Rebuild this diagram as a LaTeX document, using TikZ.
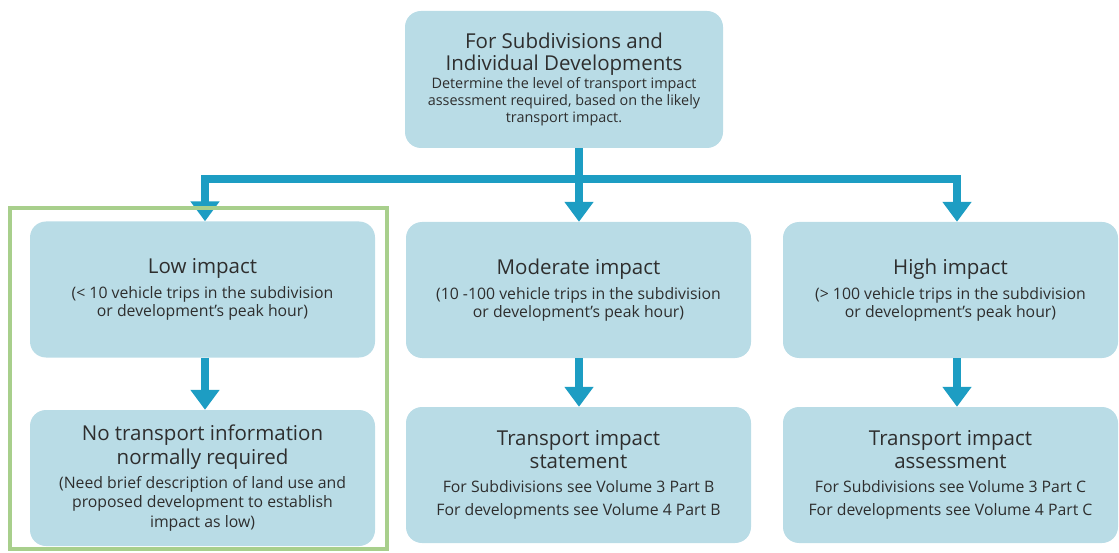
\documentclass[tikz,border=0pt]{standalone}
\usepackage{fontspec}
\setmainfont{Open Sans}
\usetikzlibrary{arrows.meta}
\definecolor{boxblue}{HTML}{B9DCE6}
\definecolor{pipeblue}{HTML}{1D9DC3}
\definecolor{framegreen}{HTML}{A8CF8C}
\definecolor{inkgray}{HTML}{2E2E2E}
\newcommand{\hd}{\fontsize{20.5}{22}\selectfont}
\newcommand{\bd}{\fontsize{15.8}{18}\selectfont}
\newcommand{\sbd}{\fontsize{14.4}{17}\selectfont}
\begin{document}
\begin{tikzpicture}[x=1pt,y=-1pt]
    % Styles for the boxes and arrows
    \tikzset{
        box/.style={
            rectangle,
            rounded corners=16pt,
            fill=boxblue,
            minimum width=345pt,
            minimum height=136pt,
            inner sep=0pt,
            text=inkgray,
            font=\bd,
            align=center
        },
        pipe/.style={
            draw=pipeblue,
            line width=7.5pt
        },
        arrow/.style={
            pipe,
            -{Triangle[width=28pt,length=20pt]}
        }
    }
    \useasboundingbox (0,0) rectangle (1119,553);
    % Top box
    \node[box, font=\sbd, minimum width=318pt, minimum height=137pt] (top) at (564,79.5)
        {\hd For Subdivisions and\\[5pt]\hd Individual Developments\\[1pt]
         Determine the level of transport impact\\
         assessment required, based on the likely\\
         transport impact.};
    % Impact levels
    \node[box] (low) at (202.5,289.5)
        {\hd Low impact\\[7pt](< 10 vehicle trips in the subdivision\\or development’s peak hour)};
    \node[box] (mod) at (578.5,290)
        {\hd Moderate impact\\[7pt](10 -100 vehicle trips in the subdivision\\or development’s peak hour)};
    \node[box, minimum width=335pt] (high) at (950.5,290)
        {\hd High impact\\[7pt](> 100 vehicle trips in the subdivision\\or development’s peak hour)};
    % What is required
    \node[box] (none) at (202.5,478)
        {\hd No transport information\\[3pt]\hd normally required\\[6pt]
         (Need brief description of land use and\\[1pt]
         proposed development to establish\\[2pt]
         impact as low)};
    \node[box] (tis) at (578.5,475)
        {\hd Transport impact\\[3pt]\hd statement\\[6pt]
         For Subdivisions see Volume 3 Part B\\[5pt]
         For developments see Volume 4 Part B};
    \node[box, minimum width=335pt] (tia) at (950.5,475)
        {\hd Transport impact\\[3pt]\hd assessment\\[6pt]
         For Subdivisions see Volume 3 Part C\\[5pt]
         For developments see Volume 4 Part C};
    % Split line under the top box
    \coordinate (jn) at (579,179);
    \draw[pipe] ([xshift=15pt]top.south) -- (jn);
    \draw[arrow] (jn) -| ([xshift=2.5pt]low.north);
    \draw[arrow] (jn) -- (mod.north -| jn);
    \draw[arrow] (jn) -| ([xshift=6.5pt]high.north);
    % Arrows down to the second row
    \foreach \a/\b/\s in {low/none/2.5, mod/tis/0.5, high/tia/6.5} {
        \draw[arrow] ([xshift=\s pt]\a.south) -- ([xshift=\s pt]\b.north);
    }
    % Frame round the low impact column
    \draw[framegreen, line width=4pt] (10,208) rectangle (387,549);
\end{tikzpicture}
\end{document}
